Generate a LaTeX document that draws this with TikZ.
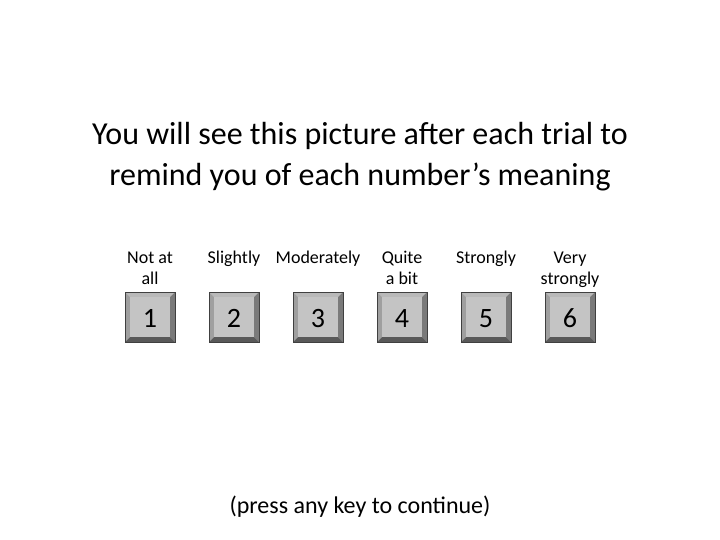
\documentclass[tikz,border=0pt]{standalone}
\usepackage{fontspec}
\setmainfont{Carlito}
\begin{document}
\begin{tikzpicture}[x=1pt,y=-1pt,
  titletext/.style={font=\fontsize{32}{38}\selectfont, align=center, inner sep=0pt},
  labeltext/.style={font=\fontsize{18}{22}\selectfont, align=center, inner sep=0pt, anchor=base},
  keynum/.style={font=\fontsize{28}{34}\selectfont, inner sep=0pt, anchor=base},
  foot/.style={font=\fontsize{24}{29}\selectfont, inner sep=0pt, anchor=base}]
\fill[white] (0,0) rectangle (720,540);
\useasboundingbox (0,0) rectangle (720,540);
\node[titletext, anchor=base] (t1) at (360,145) {You will see this picture after each trial to};
\node[titletext, anchor=base] (t2) at (360,186) {remind you of each number’s meaning};
\foreach \i/\cx/\la/\lb in {1/150/Not at/all, 2/234/Slightly/, 3/318/Moderately/, 4/402/Quite/a bit, 5/486/Strongly/, 6/570/Very/strongly}{
  \begin{scope}[shift={(\cx,317)}]
    \fill[gray!55] (-25,-25) -- (25,-25) -- (20,-20) -- (-20,-20) -- cycle;
    \fill[gray!75] (-25,-25) -- (-20,-20) -- (-20,20) -- (-25,25) -- cycle;
    \fill[black!52] (25,-25) -- (20,-20) -- (20,20) -- (25,25) -- cycle;
    \fill[black!65] (-25,25) -- (-20,20) -- (20,20) -- (25,25) -- cycle;
    \fill[gray!46] (-20,-20) rectangle (20,20);
    \draw[black!75, line width=0.6pt] (-25,-25) rectangle (25,25);
  \end{scope}
  \node[keynum] (k\i) at (\cx,327) {\i};
  \node[labeltext] (la\i) at (\cx,263) {\la};
  \node[labeltext] (lb\i) at (\cx,284) {\lb};
}
\node[foot] (f) at (360,513) {(press any key to continue)};
\end{tikzpicture}
\end{document}
